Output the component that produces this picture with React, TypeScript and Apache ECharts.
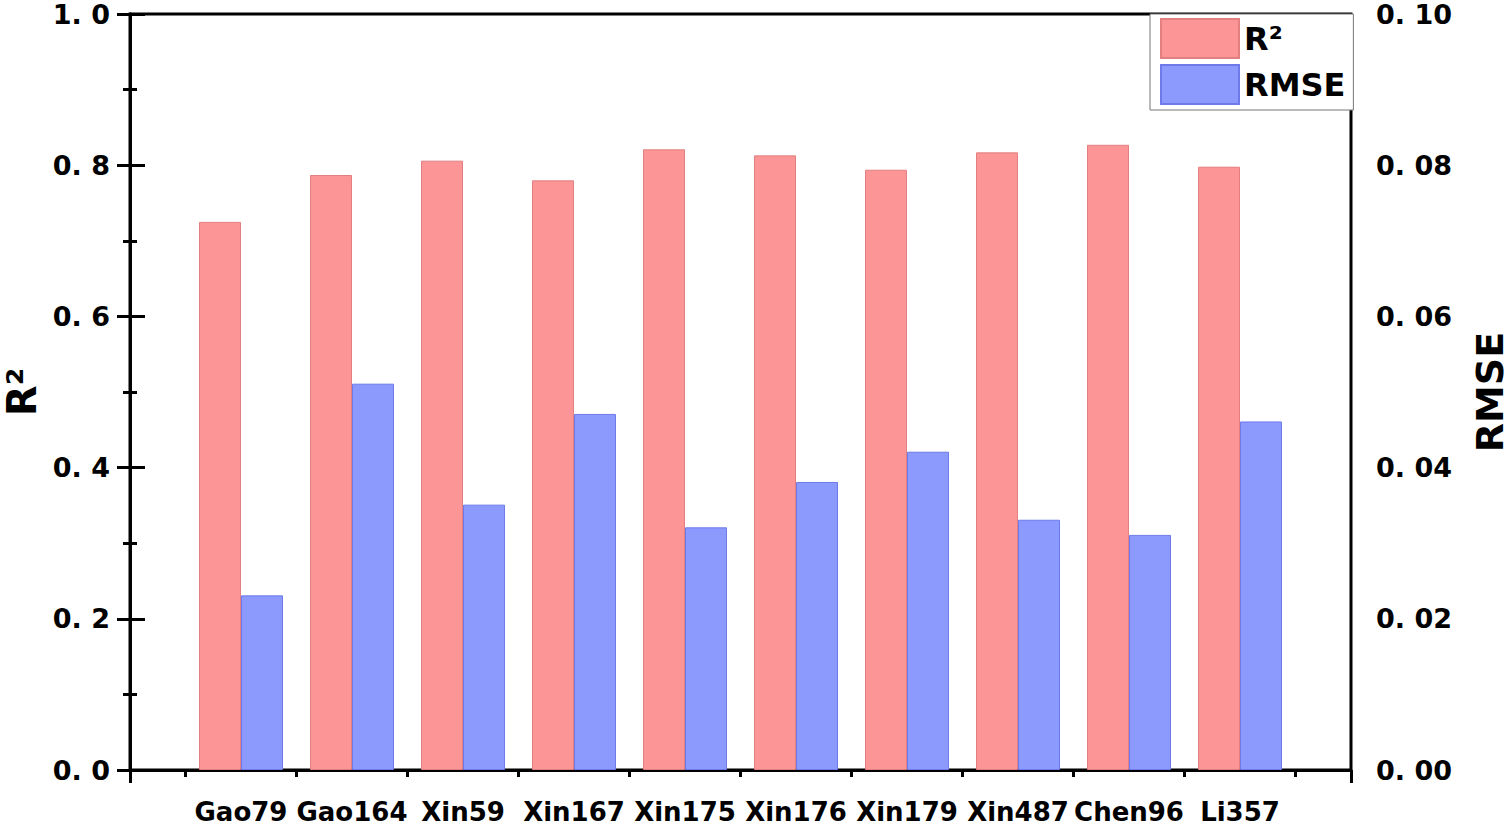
import React, { useEffect, useRef } from "react";
import * as echarts from "echarts";

const categories = ["Gao79", "Gao164", "Xin59", "Xin167", "Xin175", "Xin176", "Xin179", "Xin487", "Chen96", "Li357"];
const r2Values = [0.725, 0.787, 0.806, 0.78, 0.821, 0.813, 0.794, 0.817, 0.827, 0.798];
const rmseValues = [0.0231, 0.0511, 0.0351, 0.0471, 0.0321, 0.0381, 0.0421, 0.0331, 0.0311, 0.0461];
const leftTicks = [0, 0.2, 0.4, 0.6, 0.8, 1.0];
const rightTicks = [0, 0.02, 0.04, 0.06, 0.08, 0.1];

const FONT = "DejaVu Sans";

export default function App() {
  const ref = useRef<HTMLDivElement>(null);
  useEffect(() => {
    if (!ref.current) return;
    const chart = echarts.init(ref.current, undefined, { renderer: "svg" });
    const n = categories.length;
    const positions = categories.map((_, i) => i + 1);
    const halfTicks = [0, ...positions].map((p) => p + 0.5);
    const axisLineStyle = { color: "#000", width: 3 };
    const labelStyle = { color: "#000", fontFamily: FONT, fontWeight: "bold" as const };
    chart.setOption({
      animation: false,
      backgroundColor: "#fff",
      grid: {
        left: 130,
        right: 161,
        top: 14,
        bottom: 56,
        containLabel: false,
        outerBoundsMode: "none",
        show: true,
        borderColor: "#000",
        borderWidth: 3,
        backgroundColor: "transparent",
      },
      legend: {
        orient: "vertical",
        left: 1150,
        top: 14,
        itemWidth: 78,
        itemHeight: 39,
        itemGap: 5,
        padding: [4, 8, 5, 10],
        borderColor: "#777",
        borderWidth: 1,
        backgroundColor: "#fff",
        icon: "rect",
        textStyle: { ...labelStyle, fontSize: 32 },
        data: ["R²", "RMSE"],
      },
      xAxis: [
        {
          type: "value",
          min: 0,
          max: n + 1,
          interval: 1,
          splitLine: { show: false },
          axisLine: { show: true, lineStyle: axisLineStyle },
          axisTick: { show: true, length: 13, lineStyle: { color: "#000", width: 3 }, customValues: [0, n + 1] },
          axisLabel: {
            ...labelStyle,
            fontSize: 26,
            lineHeight: 24,
            margin: 30,
            customValues: positions,
            formatter: (v: number) => categories[Math.round(v) - 1] ?? "",
          },
        },
        {
          type: "value",
          min: 0,
          max: n + 1,
          position: "bottom",
          splitLine: { show: false },
          axisLine: { show: false },
          axisTick: { show: true, length: 7, lineStyle: { color: "#000", width: 3 }, customValues: halfTicks },
          axisLabel: { show: false },
        },
      ],
      yAxis: [
        {
          type: "value",
          min: 0,
          max: 1,
          interval: 0.2,
          position: "left",
          name: "R²",
          nameLocation: "middle",
          nameGap: 83,
          nameTextStyle: { ...labelStyle, fontSize: 40, lineHeight: 40 },
          splitLine: { show: false },
          axisLine: { show: true, lineStyle: axisLineStyle },
          axisTick: { show: true, length: 13, lineStyle: { color: "#000", width: 3 }, customValues: leftTicks },
          minorTick: { show: true, splitNumber: 2, length: 7, lineStyle: { color: "#000", width: 3 } },
          axisLabel: {
            ...labelStyle,
            fontSize: 27,
            margin: 20,
            customValues: leftTicks,
            formatter: (v: number) => v.toFixed(1).replace(".", ". "),
          },
        },
        {
          type: "value",
          min: 0,
          max: 0.1,
          interval: 0.02,
          position: "right",
          name: "RMSE",
          nameLocation: "middle",
          nameGap: 120,
          nameTextStyle: { ...labelStyle, fontSize: 38, lineHeight: 38 },
          splitLine: { show: false },
          axisLine: { show: true, lineStyle: axisLineStyle },
          axisTick: { show: true, length: 15, lineStyle: { color: "#000", width: 3 }, customValues: rightTicks },
          minorTick: { show: true, splitNumber: 2, length: 7, lineStyle: { color: "#000", width: 3 } },
          axisLabel: {
            ...labelStyle,
            fontSize: 27,
            margin: 25,
            customValues: rightTicks,
            formatter: (v: number) => v.toFixed(2).replace(".", ". "),
          },
        },
      ],
      series: [
        {
          name: "R²",
          type: "bar",
          xAxisIndex: 0,
          yAxisIndex: 0,
          barWidth: 42,
          barGap: "0%",
          itemStyle: { color: "#FC9595", borderColor: "#E27F80", borderWidth: 1 },
          data: r2Values.map((v, i) => [positions[i], v]),
        },
        {
          name: "RMSE",
          type: "bar",
          xAxisIndex: 0,
          yAxisIndex: 1,
          barWidth: 42,
          barGap: "0%",
          itemStyle: { color: "#8C9AFE", borderColor: "#6E7AEA", borderWidth: 1 },
          data: rmseValues.map((v, i) => [positions[i], v]),
        },
      ],
    });
    return () => chart.dispose();
  }, []);
  return (
    <div
      ref={ref}
      style={{ position: "fixed", left: 0, top: 0, width: 1512, height: 826, background: "#fff" }}
    />
  );
}
